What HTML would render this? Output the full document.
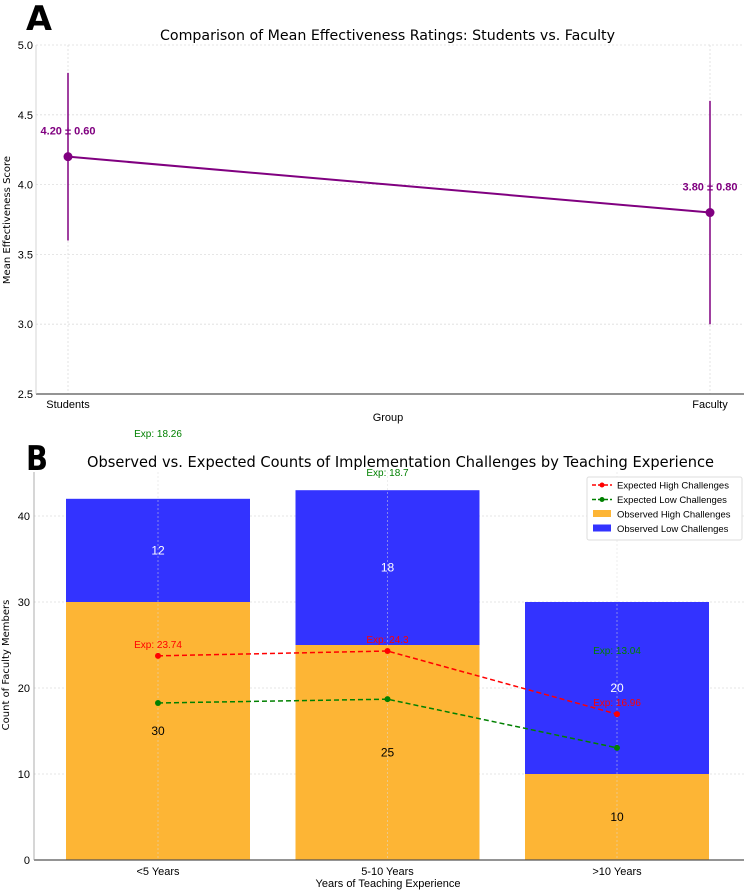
<!DOCTYPE html>
<html><head><meta charset="utf-8"><style>
body{margin:0;background:#fff;}
svg{display:block;font-family:"DejaVu Sans","Liberation Sans",sans-serif;}
.cond{font-family:"Liberation Sans Narrow","Liberation Sans",sans-serif;}
</style></head><body>
<svg id="chart" width="744" height="891" viewBox="0 0 744 891">
</svg>
<script>
// Panel A data
const groups = ["Students", "Faculty"];
const means = [4.20, 3.80];
const sds = [0.60, 0.80];
const aTicks = [2.5, 3.0, 3.5, 4.0, 4.5, 5.0];
// Panel B data
const categories = ["<5 Years", "5-10 Years", ">10 Years"];
const obsHigh = [30, 25, 10];
const obsLow = [12, 18, 20];
const expHigh = [23.74, 24.3, 16.96];
const expLow = [18.26, 18.7, 13.04];
const expHighLabels = ["23.74", "24.3", "16.96"];
const expLowLabels = ["18.26", "18.7", "13.04"];
const bTicks = [0, 10, 20, 30, 40];

const NS = "http://www.w3.org/2000/svg";
const svg = document.getElementById("chart");
function mk(tag, attrs, parent, text) {
  const e = document.createElementNS(NS, tag);
  for (const k in attrs) e.setAttribute(k, attrs[k]);
  if (text !== undefined) e.textContent = text;
  (parent || svg).appendChild(e);
  return e;
}

// ---------- Panel A ----------
const aL = 36, aR = 744, aT = 45, aB = 394;
const ay = v => aB - (v - 2.5) / 2.5 * (aB - aT);
const ax = i => 68 + i * (710 - 68);
let g = mk("g", {});


let t = mk("text", {x: 26, y: 30, "font-size": 34, "font-weight": "bold", "textLength": 26, "lengthAdjust": "spacingAndGlyphs"}, g, "A");


t = mk("text", {x: 160, y: 40, "font-size": 14, textLength: 455, lengthAdjust: "spacingAndGlyphs"}, g, "Comparison of Mean Effectiveness Ratings: Students vs. Faculty");


aTicks.forEach(v => {
  const l = mk("line", {x1: aL, x2: aR, y1: ay(v), y2: ay(v), stroke: "#ddd", "stroke-dasharray": "2,2", "stroke-width": 0.8}, g);
  
  
  const tx = mk("text", {x: aL - 3, y: ay(v) + 4, "font-size": 11, "text-anchor": "end", class: "cond"}, g, v.toFixed(1));
  
  
});
groups.forEach((n, i) => {
  const l = mk("line", {x1: ax(i), x2: ax(i), y1: aT, y2: aB, stroke: "#ddd", "stroke-dasharray": "2,2", "stroke-width": 0.8}, g);
  
  
  const tx = mk("text", {x: ax(i), y: aB + 14, "font-size": 11, "text-anchor": "middle", class: "cond"}, g, n);
  
  
});
let ln = mk("line", {x1: aL, x2: aR, y1: aB, y2: aB, stroke: "#555", "stroke-width": 1.2}, g);


ln = mk("line", {x1: aL, x2: aL, y1: aT, y2: aB, stroke: "#ccc", "stroke-width": 0.8}, g);


t = mk("text", {x: 388, y: 421, "font-size": 11, "text-anchor": "middle", class: "cond"}, g, "Group");


t = mk("text", {x: 10, y: 220, "font-size": 10, "text-anchor": "middle", transform: "rotate(-90 10 220)"}, g, "Mean Effectiveness Score");


const purple = "#800080";
const pl = mk("polyline", {points: means.map((m, i) => ax(i) + "," + ay(m)).join(" "), fill: "none", stroke: purple, "stroke-width": 2}, g);


means.forEach((m, i) => {
  const e = mk("line", {x1: ax(i), x2: ax(i), y1: ay(m + sds[i]), y2: ay(m - sds[i]), stroke: purple, "stroke-width": 1.5}, g);
  
  
  const c = mk("circle", {cx: ax(i), cy: ay(m), r: 4.5, fill: purple}, g);
  
  
  const tx = mk("text", {x: ax(i), y: ay(m) - 22, "font-size": 11, "font-weight": "bold", fill: purple, "text-anchor": "middle", class: "cond"}, g, m.toFixed(2) + " \u00b1 " + sds[i].toFixed(2));
  
  
});

// ---------- Panel B ----------
const bL = 34, bR = 744, bT = 472, bB = 860;
const by = v => bB - v * 8.6;
const bx = i => 158 + i * 229.5;
const bw = 184;
g = mk("g", {});


t = mk("text", {x: 26, y: 470, "font-size": 34, "font-weight": "bold", "textLength": 22, "lengthAdjust": "spacingAndGlyphs"}, g, "B");


t = mk("text", {x: 87, y: 467, "font-size": 15, textLength: 627, lengthAdjust: "spacingAndGlyphs"}, g, "Observed vs. Expected Counts of Implementation Challenges by Teaching Experience");


bTicks.forEach(v => {
  const l = mk("line", {x1: bL, x2: bR, y1: by(v), y2: by(v), stroke: "#ddd", "stroke-dasharray": "2,2", "stroke-width": 0.8}, g);
  
  
  const tx = mk("text", {x: bL - 4, y: by(v) + 4, "font-size": 11, "text-anchor": "end", class: "cond"}, g, v);
  
  
});
categories.forEach((c, i) => {
  const r1 = mk("rect", {x: bx(i) - bw / 2, y: by(obsHigh[i]), width: bw, height: by(0) - by(obsHigh[i]), fill: "#fdb535"}, g);
  
  
  const r2 = mk("rect", {x: bx(i) - bw / 2, y: by(obsHigh[i] + obsLow[i]), width: bw, height: by(obsHigh[i]) - by(obsHigh[i] + obsLow[i]), fill: "#3333ff"}, g);
  
  
  const tx = mk("text", {x: bx(i), y: by(0) + 15, "font-size": 11, "text-anchor": "middle", class: "cond"}, g, c);
  
  
  const gl = mk("line", {x1: bx(i), x2: bx(i), y1: bT, y2: bB, stroke: "#ddd", "stroke-dasharray": "2,2", "stroke-width": 0.8, opacity: 0.6}, g);
  
  
  const v1 = mk("text", {x: bx(i), y: by(obsHigh[i] / 2) + 4, "font-size": 12, "text-anchor": "middle", class: "cond"}, g, obsHigh[i]);
  
  
  const v2 = mk("text", {x: bx(i), y: by(obsHigh[i] + obsLow[i] / 2) + 4, "font-size": 12, fill: "#fff", "text-anchor": "middle", class: "cond"}, g, obsLow[i]);
  
  
});
ln = mk("line", {x1: bL, x2: bR, y1: bB, y2: bB, stroke: "#555", "stroke-width": 1.2}, g);


ln = mk("line", {x1: bL, x2: bL, y1: bT, y2: bB, stroke: "#999", "stroke-width": 0.8}, g);


t = mk("text", {x: 388, y: 887, "font-size": 11, "text-anchor": "middle", class: "cond"}, g, "Years of Teaching Experience");


t = mk("text", {x: 9, y: 665, "font-size": 10, "text-anchor": "middle", transform: "rotate(-90 9 665)"}, g, "Count of Faculty Members");


function series(vals, labels, color, name, base) {
  const p = mk("polyline", {points: vals.map((v, i) => bx(i) + "," + by(v)).join(" "), fill: "none", stroke: color, "stroke-width": 1.5, "stroke-dasharray": "5,3"}, g);
  
  
  vals.forEach((v, i) => {
    const c = mk("circle", {cx: bx(i), cy: by(v), r: 3, fill: color}, g);
    
    
    const ly = by(v + base[i] + 1.4);
    const tx = mk("text", {x: bx(i), y: ly + 4, "font-size": 10, fill: color, "text-anchor": "middle", class: "cond"}, g, "Exp: " + labels[i]);
    
    
  });
}
series(expHigh, expHighLabels, "#ff0000", "expected-high", [0, 0, 0]);
series(expLow, expLowLabels, "#008000", "expected-low", obsHigh);
// legend
const lg = mk("g", {}, g);


mk("rect", {x: 587, y: 477, width: 155, height: 63, fill: "#fff", stroke: "#ddd", rx: 2}, lg);
const items = [["line", "#ff0000", "Expected High Challenges"], ["line", "#008000", "Expected Low Challenges"], ["rect", "#fdb535", "Observed High Challenges"], ["rect", "#3333ff", "Observed Low Challenges"]];
items.forEach((it, k) => {
  const yy = 485 + k * 14.5;
  const e = mk("g", {}, lg);
  
  
  if (it[0] === "line") {
    mk("line", {x1: 592, x2: 612, y1: yy, y2: yy, stroke: it[1], "stroke-width": 1.5, "stroke-dasharray": "4,2"}, e);
    mk("circle", {cx: 602, cy: yy, r: 2.5, fill: it[1]}, e);
  } else {
    mk("rect", {x: 593, y: yy - 4, width: 18, height: 7, fill: it[1]}, e);
  }
  mk("text", {x: 617, y: yy + 3.5, "font-size": 9.5, class: "cond"}, e, it[2]);
});
</script>
</body></html>
